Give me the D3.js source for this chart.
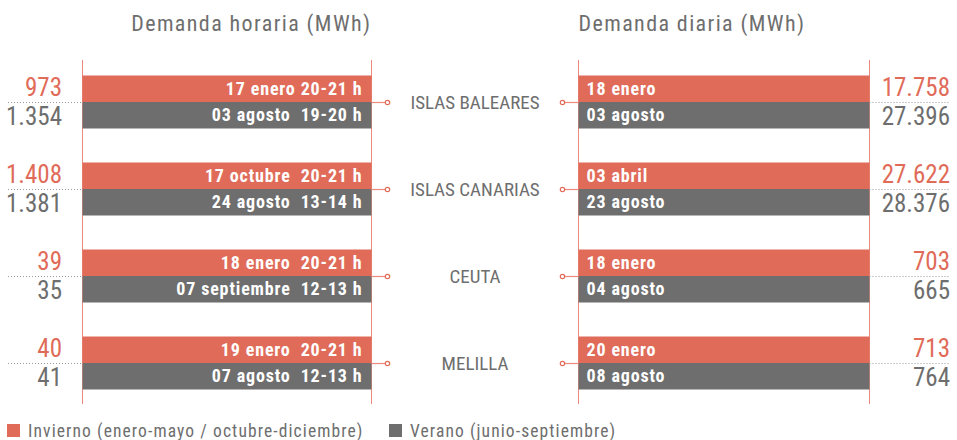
<!DOCTYPE html>
<html>
<head>
<meta charset="utf-8">
<script src="https://cdn.jsdelivr.net/npm/d3@7"></script>
<style>
    body { margin: 0; background: #fff; }
    svg text { font-family: "Roboto Condensed", "Liberation Sans Narrow", "DejaVu Sans Condensed", "Open Sans", sans-serif; }
</style>
</head>
<body>
<div id="chartContainer"></div>
<script>
'use strict';

// Data
const regions = ["ISLAS BALEARES", "ISLAS CANARIAS", "CEUTA", "MELILLA"];

const hourlyWinter = [973, 1408, 39, 40];
const hourlySummer = [1354, 1381, 35, 41];
const hourlyWinterLabels = ["17 enero 20-21 h", "17 octubre  20-21 h", "18 enero  20-21 h", "19 enero  20-21 h"];
const hourlySummerLabels = ["03 agosto  19-20 h", "24 agosto  13-14 h", "07 septiembre  12-13 h", "07 agosto  12-13 h"];

const dailyWinter = [17758, 27622, 703, 713];
const dailySummer = [27396, 28376, 665, 764];
const dailyWinterLabels = ["18 enero", "03 abril", "18 enero", "20 enero"];
const dailySummerLabels = ["03 agosto", "23 agosto", "04 agosto", "08 agosto"];

const seasons = ["Invierno (enero-mayo / octubre-diciembre)", "Verano (junio-septiembre)"];

const colors = {
    red: "#e06b59",
    gray: "#6e6e6e",
    line: "#ec8a7d",
    dots: "#9a9a9a"
};

const esLocale = d3.formatLocale({ decimal: ",", thousands: ".", grouping: [3], currency: ["", " €"] });
const fmt = esLocale.format(",d");

const width = 957, height = 440;

const svg = d3.select("#chartContainer")
    .append("svg")
    .attr("width", width)
    .attr("height", height);

// vertical position of each region group
const y = d3.scaleBand()
    .domain(regions)
    .range([58.5, 406.5]);

// position of winter / summer bar inside the group
const yInner = d3.scaleBand()
    .domain(["inv", "ver"])
    .range([-26.5, 26.5]);

const xLeft = d3.scaleLinear().domain([0, 1]).range([82.5, 371.5]);
const xRight = d3.scaleLinear().domain([0, 1]).range([578.5, 869.5]);

const mid = (r) => y(r) + y.bandwidth() / 2;

const buildRows = (winter, summer, winterLabels, summerLabels) => {
    return regions.map((r, i) => ({
        region: r,
        winter: winter[i],
        summer: summer[i],
        winterLabel: winterLabels[i],
        summerLabel: summerLabels[i]
    }));
}

// Draws one of the two side panels
const drawPanel = (rows, x, side, title) => {
    const g = svg.append("g");

    // title
    g.append("text")
        .attr("x", side == "left" ? x(1) : x(0))
        .attr("y", 31)
        .attr("text-anchor", side == "left" ? "end" : "start")
        .style("font-size", "22px")
        .style("letter-spacing", "1.4px")
        .style("fill", colors.gray)
        .text(title);

    // frame lines
    [0, 1].forEach((v) => {
        g.append("line")
            .attr("x1", x(v)).attr("x2", x(v))
            .attr("y1", y.range()[0] + 1.5).attr("y2", y.range()[1] - 2.5)
            .attr("stroke", colors.line)
            .attr("stroke-width", 1);
    });

    const groups = g.selectAll(".group")
        .data(rows)
        .enter()
        .append("g")
        .attr("class", "group")
        .attr("transform", (d) => "translate(0," + mid(d.region) + ")");

    // bars
    groups.append("rect")
        .attr("x", x(0))
        .attr("y", yInner("inv"))
        .attr("width", x(1) - x(0))
        .attr("height", yInner.bandwidth())
        .attr("fill", colors.red);

    groups.append("rect")
        .attr("x", x(0))
        .attr("y", yInner("ver"))
        .attr("width", x(1) - x(0))
        .attr("height", yInner.bandwidth())
        .attr("fill", colors.gray);

    // labels inside bars
    const labelX = side == "left" ? x(1) - 9 : x(0) + 8;
    const anchor = side == "left" ? "end" : "start";

    groups.append("text")
        .attr("x", labelX)
        .attr("y", yInner("inv") + yInner.bandwidth() / 2 + 6)
        .attr("text-anchor", anchor)
        .attr("xml:space", "preserve")
        .style("font-size", "18px")
        .style("letter-spacing", "0.85px")
        .style("font-weight", "bold")
        .style("fill", "#fff")
        .text((d) => d.winterLabel);

    groups.append("text")
        .attr("x", labelX)
        .attr("y", yInner("ver") + yInner.bandwidth() / 2 + 6)
        .attr("text-anchor", anchor)
        .attr("xml:space", "preserve")
        .style("font-size", "18px")
        .style("letter-spacing", "0.85px")
        .style("font-weight", "bold")
        .style("fill", "#fff")
        .text((d) => d.summerLabel);

    // dotted separator outside the panel
    const dotStart = side == "left" ? 8 : x(1);
    const dotEnd = side == "left" ? x(0) : 950;
    groups.append("line")
        .attr("x1", dotStart).attr("x2", dotEnd)
        .attr("y1", 0.5).attr("y2", 0.5)
        .attr("stroke", colors.dots)
        .attr("stroke-width", 1)
        .attr("stroke-dasharray", "1,2");

    // values
    const valueX = side == "left" ? 62 : 950;
    groups.append("text")
        .attr("x", valueX)
        .attr("y", -6)
        .attr("text-anchor", "end")
        .style("font-size", "25px")
        .style("fill", colors.red)
        .text((d) => fmt(d.winter));

    groups.append("text")
        .attr("x", valueX)
        .attr("y", 23)
        .attr("text-anchor", "end")
        .style("font-size", "25px")
        .style("fill", colors.gray)
        .text((d) => fmt(d.summer));

    // connector towards the region name
    const cx = side == "left" ? x(1) + 16 : x(0) - 16;
    groups.append("line")
        .attr("x1", side == "left" ? x(1) : x(0)).attr("x2", cx)
        .attr("y1", 0.5).attr("y2", 0.5)
        .attr("stroke", colors.line)
        .attr("stroke-width", 1.2);

    groups.append("circle")
        .attr("cx", cx)
        .attr("cy", 0.5)
        .attr("r", 2.2)
        .attr("fill", "#fff")
        .attr("stroke", colors.red)
        .attr("stroke-width", 1.2);
}

drawPanel(buildRows(hourlyWinter, hourlySummer, hourlyWinterLabels, hourlySummerLabels), xLeft, "left", "Demanda horaria (MWh)");
drawPanel(buildRows(dailyWinter, dailySummer, dailyWinterLabels, dailySummerLabels), xRight, "right", "Demanda diaria (MWh)");

// region names in the middle
svg.selectAll(".region")
    .data(regions)
    .enter()
    .append("text")
    .attr("class", "region")
    .attr("x", (xLeft(1) + xRight(0)) / 2)
    .attr("y", (d) => mid(d) + 7)
    .attr("text-anchor", "middle")
    .style("font-size", "19px")
    .style("fill", colors.gray)
    .text((d) => d);

// legend
const legendX = [7, 389];
const legend = svg.selectAll(".legend")
    .data(seasons)
    .enter()
    .append("g")
    .attr("class", "legend")
    .attr("transform", (d, i) => "translate(" + legendX[i] + ",424)");

legend.append("rect")
    .attr("width", 13)
    .attr("height", 13)
    .attr("fill", (d, i) => i == 0 ? colors.red : colors.gray);

legend.append("text")
    .attr("x", 21)
    .attr("y", 13)
    .style("font-size", "17.5px")
    .style("letter-spacing", "1.1px")
    .style("fill", colors.gray)
    .text((d) => d);
</script>
</body>
</html>
